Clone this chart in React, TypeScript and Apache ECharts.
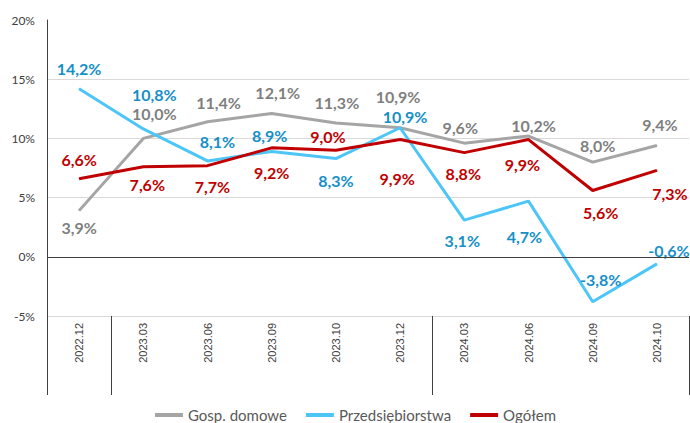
import React, { useEffect, useRef } from "react";
import * as echarts from "echarts";

const categories = ["2022.12", "2023.03", "2023.06", "2023.09", "2023.10", "2023.12", "2024.03", "2024.06", "2024.09", "2024.10"];
const gospDomowe = [3.9, 10.0, 11.4, 12.1, 11.3, 10.9, 9.6, 10.2, 8.0, 9.4];
const przedsiebiorstwa = [14.2, 10.8, 8.1, 8.9, 8.3, 10.9, 3.1, 4.7, -3.8, -0.6];
const ogolem = [6.6, 7.6, 7.7, 9.2, 9.0, 9.9, 8.8, 9.9, 5.6, 7.3];
const seriesNames = ["Gosp. domowe", "Przedsiębiorstwa", "Ogółem"];

// label placement (offset of label centre from its point, px)
const gospOffsets = [[0, 17], [11, -25], [11, -19], [6, -21], [1, -21], [-2, -31], [-4, -16], [5, -11], [5, -17], [3, -21]];
const przedOffsets = [[0, -20], [11, -34], [10, -19], [-2, -16], [0, 22], [5, -11], [-2, 20], [-4, 35], [8, -22], [12, -13]];
const ogolemOffsets = [[0, -19], [4, 18], [5, 21], [0, 25], [-8, -14], [-3, 39], [-1, 21], [-6, 25], [8, 22], [13, 23]];

const fmt = (v: number) => v.toFixed(1).replace(".", ",") + "%";

function makeSeries(name: string, values: number[], offsets: number[][], lineColor: string, labelColor: string, extra: any = {}) {
  return {
    name,
    type: "line",
    data: values.map((v, i) => ({ value: v, label: { offset: offsets[i] } })),
    symbol: "circle",
    symbolSize: 1,
    showSymbol: true,
    itemStyle: { color: lineColor },
    lineStyle: { color: lineColor, width: 3 },
    label: {
      show: true,
      position: "inside",
      formatter: (p: any) => fmt(p.value),
      color: labelColor,
      fontFamily: "Lato",
      fontWeight: "bold",
      fontSize: 16,
      lineHeight: 16,
    },
    emphasis: { disabled: true },
    ...extra,
  };
}

export default function App() {
  const ref = useRef<HTMLDivElement>(null);
  useEffect(() => {
    if (!ref.current) return;
    const chart = echarts.init(ref.current, undefined, { renderer: "svg" });
    chart.setOption({
      animation: false,
      backgroundColor: "#ffffff",
      grid: { left: 47, right: 1, top: 20, bottom: 107, containLabel: false },
      legend: {
        data: seriesNames,
        left: 155,
        bottom: 0,
        padding: 0,
        icon: "rect",
        itemWidth: 28,
        itemHeight: 4,
        itemGap: 19,
        textStyle: { color: "#595959", fontFamily: "Lato", fontSize: 15, lineHeight: 16 },
      },
      xAxis: {
        type: "category",
        data: categories,
        boundaryGap: true,
        axisLine: { show: false, onZero: false },
        axisTick: {
          show: true,
          length: 79,
          interval: (i: number) => i === 0 || i === 1 || i === 6,
          lineStyle: { color: "#404040", width: 1 },
        },
        axisLabel: {
          rotate: 90,
          interval: 0,
          margin: 7,
          color: "#404040",
          fontFamily: "Liberation Sans",
          fontSize: 11,
        },
      },
      yAxis: {
        type: "value",
        min: -5,
        max: 20,
        interval: 5,
        axisLine: { show: true, lineStyle: { color: "#404040", width: 1 } },
        axisTick: { show: false },
        axisLabel: {
          formatter: (v: number) => v + "%",
          color: "#404040",
          fontFamily: "Lato",
          fontSize: 12,
          margin: 12,
        },
        splitLine: { show: true, showMaxLine: false, lineStyle: { color: "#d9d9d9", width: 1 } },
      },
      series: [
        makeSeries(seriesNames[0], gospDomowe, gospOffsets, "#A5A5A5", "#7F7F7F", {
          markLine: {
            silent: true,
            symbol: "none",
            label: { show: false },
            lineStyle: { color: "#404040", type: "solid", width: 1 },
            data: [{ yAxis: 0 }],
          },
        }),
        makeSeries(seriesNames[1], przedsiebiorstwa, przedOffsets, "#4DC6F7", "#168FC8"),
        makeSeries(seriesNames[2], ogolem, ogolemOffsets, "#C00000", "#C00000"),
      ],
    });
    return () => chart.dispose();
  }, []);
  return <div ref={ref} style={{ width: 690, height: 423, position: "absolute", left: 0, top: 0 }} />;
}
